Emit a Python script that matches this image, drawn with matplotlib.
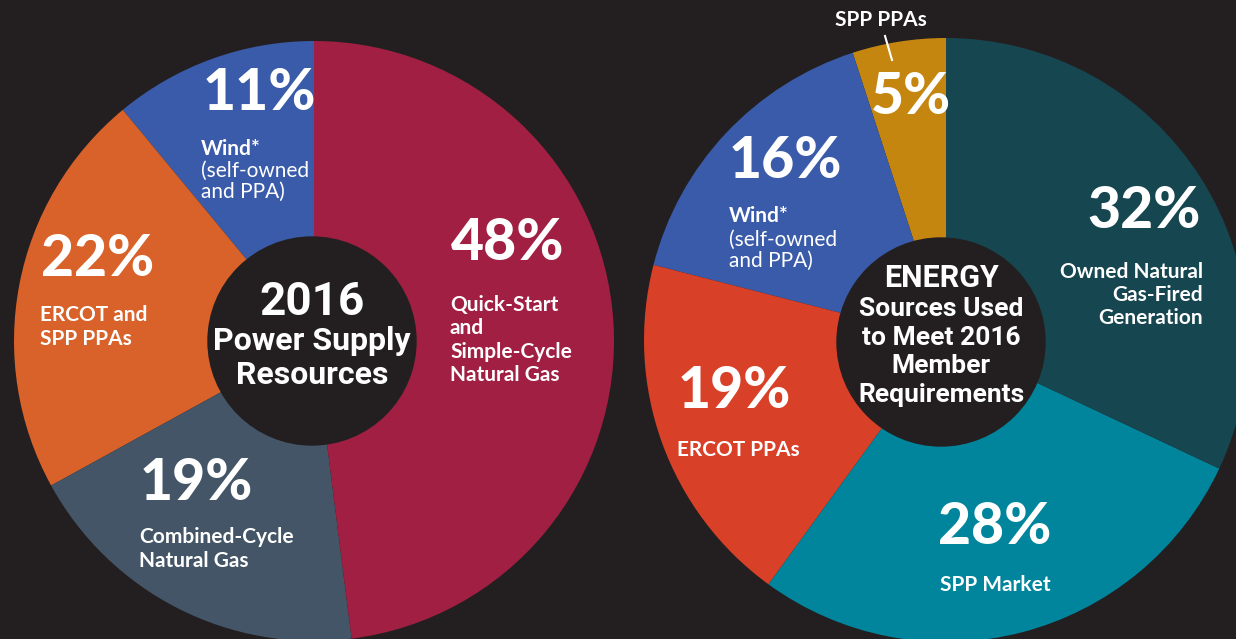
import matplotlib
matplotlib.use("Agg")
import matplotlib.pyplot as plt
from matplotlib.patches import Circle

W, H = 1236, 639
BG = "#231f20"

# left chart: 2016 power supply resources
left_labels = ["Wind*", "ERCOT and\nSPP PPAs", "Combined-Cycle\nNatural Gas",
               "Quick-Start\nand\nSimple-Cycle\nNatural Gas"]
left_values = [11, 22, 19, 48]
left_colors = ["#3a5ba9", "#d8622a", "#435566", "#a01f42"]

# right chart: energy sources used to meet 2016 member requirements
right_labels = ["SPP PPAs", "Wind*", "ERCOT PPAs", "SPP Market",
                "Owned Natural\nGas-Fired\nGeneration"]
right_values = [5, 16, 19, 28, 32]
right_colors = ["#c4860f", "#3a5ba9", "#d94028", "#00859c", "#16464f"]

fig = plt.figure(figsize=(W / 100, H / 100), dpi=100, facecolor=BG)
ax = fig.add_axes([0, 0, 1, 1])
ax.set_facecolor(BG)


def Y(y):
    # pixel row from top -> data y
    return H - y


ax.pie(left_values, colors=left_colors, startangle=90, counterclock=True,
       center=(314, Y(341)), radius=300, frame=True,
       wedgeprops=dict(linewidth=0))
ax.pie(right_values, colors=right_colors, startangle=90, counterclock=True,
       center=(946, Y(340)), radius=302, frame=True,
       wedgeprops=dict(linewidth=0))
ax.set_xlim(0, W)
ax.set_ylim(0, H)
ax.set_aspect("equal")
ax.axis("off")

ax.add_patch(Circle((312, Y(341)), 104, color=BG, zorder=3))
ax.add_patch(Circle((941, Y(342)), 104, color=BG, zorder=3))

pct = dict(family="Lato", weight="black", fontsize=41, color="white", va="center")
lab = dict(family="Lato", weight="bold", fontsize=15, color="white", va="center",
           linespacing=1.2)
sub = dict(family="Lato", weight="normal", fontsize=15, color="white", va="center",
           linespacing=1.05)
mid = dict(family="Roboto", weight="bold", color="white", ha="center",
           va="center", zorder=4)

# left pie texts
ax.text(203, Y(94), f"{left_values[0]}%", **pct)
ax.text(201, Y(149), left_labels[0], **lab)
ax.text(201, Y(181), "(self-owned\nand PPA)", **sub)
ax.text(41, Y(260), f"{left_values[1]}%", **pct)
ax.text(40, Y(327), left_labels[1], **lab)
ax.text(140, Y(484), f"{left_values[2]}%", **pct)
ax.text(139, Y(549), left_labels[2], **lab)
ax.text(451, Y(243), f"{left_values[3]}%", **pct)
ax.text(450, Y(340), left_labels[3], **lab)

ax.text(312, Y(302), "2016", fontsize=33, **mid)
ax.text(312, Y(341), "Power Supply", fontsize=23, **mid)
ax.text(312, Y(375), "Resources", fontsize=23, **mid)

# right pie texts
ax.text(881, Y(20), right_labels[0], ha="center", **lab)
ax.plot([885, 892], [Y(36), Y(60)], color="white", lw=1.5)
ax.text(871, Y(98), f"{right_values[0]}%", **pct)
ax.text(729, Y(161), f"{right_values[1]}%", **pct)
ax.text(729, Y(216), right_labels[1], **lab)
ax.text(729, Y(250), "(self-owned\nand PPA)", **sub)
ax.text(678, Y(391), f"{right_values[2]}%", **pct)
ax.text(677, Y(450), right_labels[2], **lab)
ax.text(995, Y(528), f"{right_values[3]}%", ha="center", **pct)
ax.text(995, Y(585), right_labels[3], ha="center", **lab)
ax.text(1201, Y(211), f"{right_values[4]}%", ha="right", **pct)
ax.text(1203, Y(295), right_labels[4], ha="right", multialignment="right", **lab)

ax.text(941, Y(278), "ENERGY", fontsize=22, **mid)
ax.text(941, Y(352), "Sources Used\nto Meet 2016\nMember\nRequirements",
        fontsize=19, linespacing=1.25, **mid)

fig.savefig("out.png", dpi=100, facecolor=BG)
